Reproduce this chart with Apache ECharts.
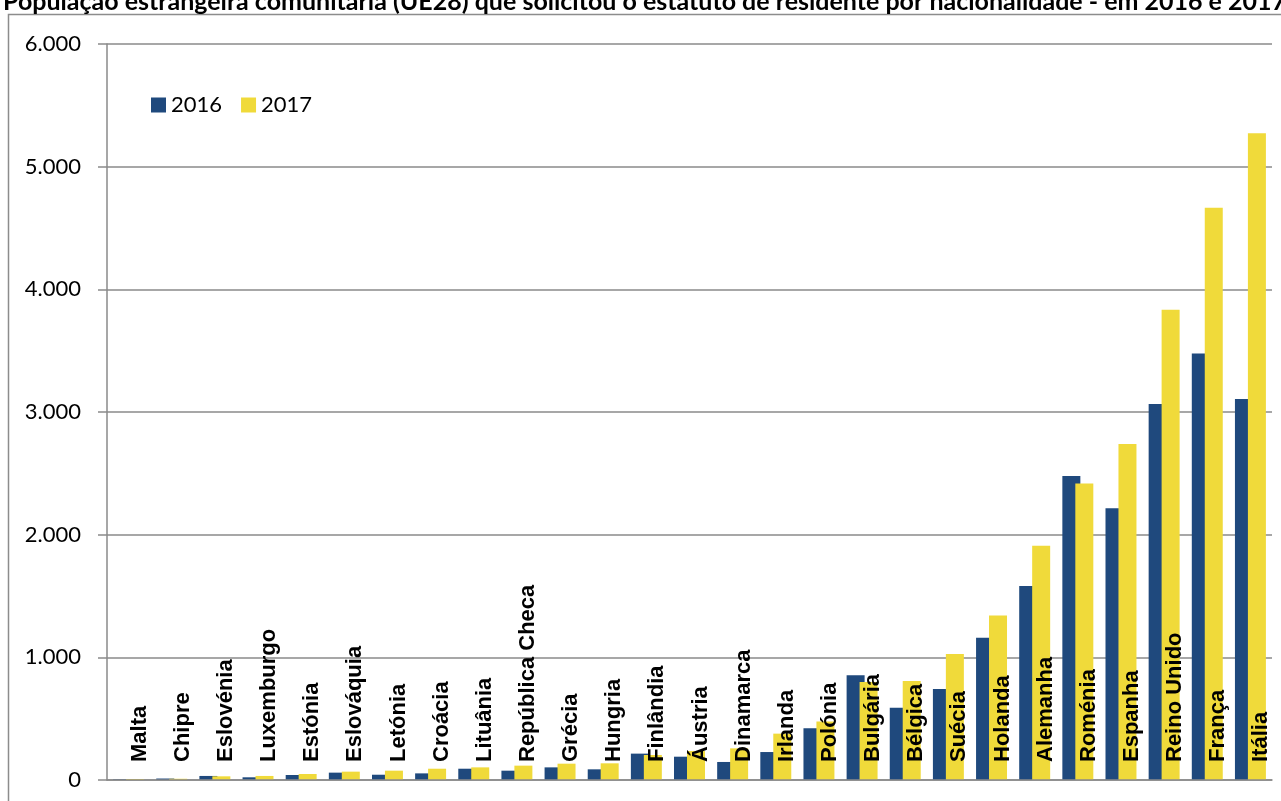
<!DOCTYPE html>
<html>
<head>
<meta charset="utf-8">
<script src="https://cdn.jsdelivr.net/npm/echarts@6/dist/echarts.min.js"></script>
<style>
html,body{margin:0;padding:0;background:#fff;}
#chart{width:1281px;height:801px;}
</style>
</head>
<body>
<div id="chart"></div>
<script>
var titleText = "População estrangeira comunitária (UE28) que solicitou o estatuto de residente por nacionalidade - em 2016 e 2017";
var categories = ["Malta","Chipre","Eslovénia","Luxemburgo","Estónia","Eslováquia","Letónia","Croácia","Lituânia","República Checa","Grécia","Hungria","Finlândia","Áustria","Dinamarca","Irlanda","Polónia","Bulgária","Bélgica","Suécia","Holanda","Alemanha","Roménia","Espanha","Reino Unido","França","Itália"];
var values2016 = [5,12,33,22,41,60,43,54,92,76,103,87,215,190,147,228,421,853,590,742,1160,1581,2478,2215,3065,3476,3106];
var values2017 = [8,10,30,33,49,68,76,92,103,117,133,136,204,236,258,378,476,799,807,1027,1342,1910,2418,2739,3834,4666,5272];
var seriesNames = ["2016","2017"];
var yTicks = [0,1000,2000,3000,4000,5000,6000];

function fmt(v){
  var s = String(Math.round(v));
  return s.replace(/\B(?=(\d{3})+(?!\d))/g, ".");
}

var chart = echarts.init(document.getElementById('chart'), null, {renderer:'canvas'});
var FONT = 'Lato';
var GRID = '#8a8a8a';
chart.setOption({
  animation: false,
  backgroundColor: '#fff',
  title: {
    text: titleText,
    left: 3, top: -11,
    padding: 0,
    textStyle: {fontFamily: FONT, fontWeight: 'bold', fontSize: 25, color: '#000'}
  },
  graphic: [{
    type: 'rect', z: -10, silent: true,
    shape: {x: 8.5, y: 14.5, width: 1400, height: 1000},
    style: {fill: 'none', stroke: '#8c8c8c', lineWidth: 1.5}
  }],
  legend: {
    left: 146, top: 89,
    itemWidth: 15, itemHeight: 15, itemGap: 19,
    icon: 'rect',
    textStyle: {fontFamily: FONT, fontSize: 22, color: '#000'},
    data: seriesNames
  },
  grid: {left: 107, right: 9, top: 44, bottom: 21, containLabel: false},
  xAxis: {
    type: 'category',
    data: categories,
    z: 10,
    axisLine: {show: true, lineStyle: {color: GRID, width: 1.5}},
    axisTick: {show: false},
    axisLabel: {
      inside: true, rotate: 90, margin: 18, interval: 0,
      fontFamily: 'Liberation Sans', fontWeight: 'bold', fontSize: 22, color: '#000',
      verticalAlign: 'top'
    }
  },
  yAxis: {
    type: 'value',
    min: yTicks[0], max: yTicks[yTicks.length-1], interval: 1000,
    axisLine: {show: true, lineStyle: {color: GRID, width: 1.5}},
    axisTick: {show: true, inside: false, length: 9, lineStyle: {color: GRID, width: 1.5}},
    splitLine: {show: true, lineStyle: {color: GRID, width: 1.5}},
    axisLabel: {
      margin: 26, fontFamily: FONT, fontSize: 22, color: '#000',
      formatter: function(v){ return fmt(v); }
    }
  },
  series: [{
    name: seriesNames[0], type: 'bar', data: values2016,
    barWidth: 18, barGap: '-28%',
    itemStyle: {color: '#1f497d'}
  },{
    name: seriesNames[1], type: 'bar', data: values2017,
    barWidth: 18, barGap: '-28%',
    itemStyle: {color: '#f0da3a'}
  }]
});
</script>
</body>
</html>
